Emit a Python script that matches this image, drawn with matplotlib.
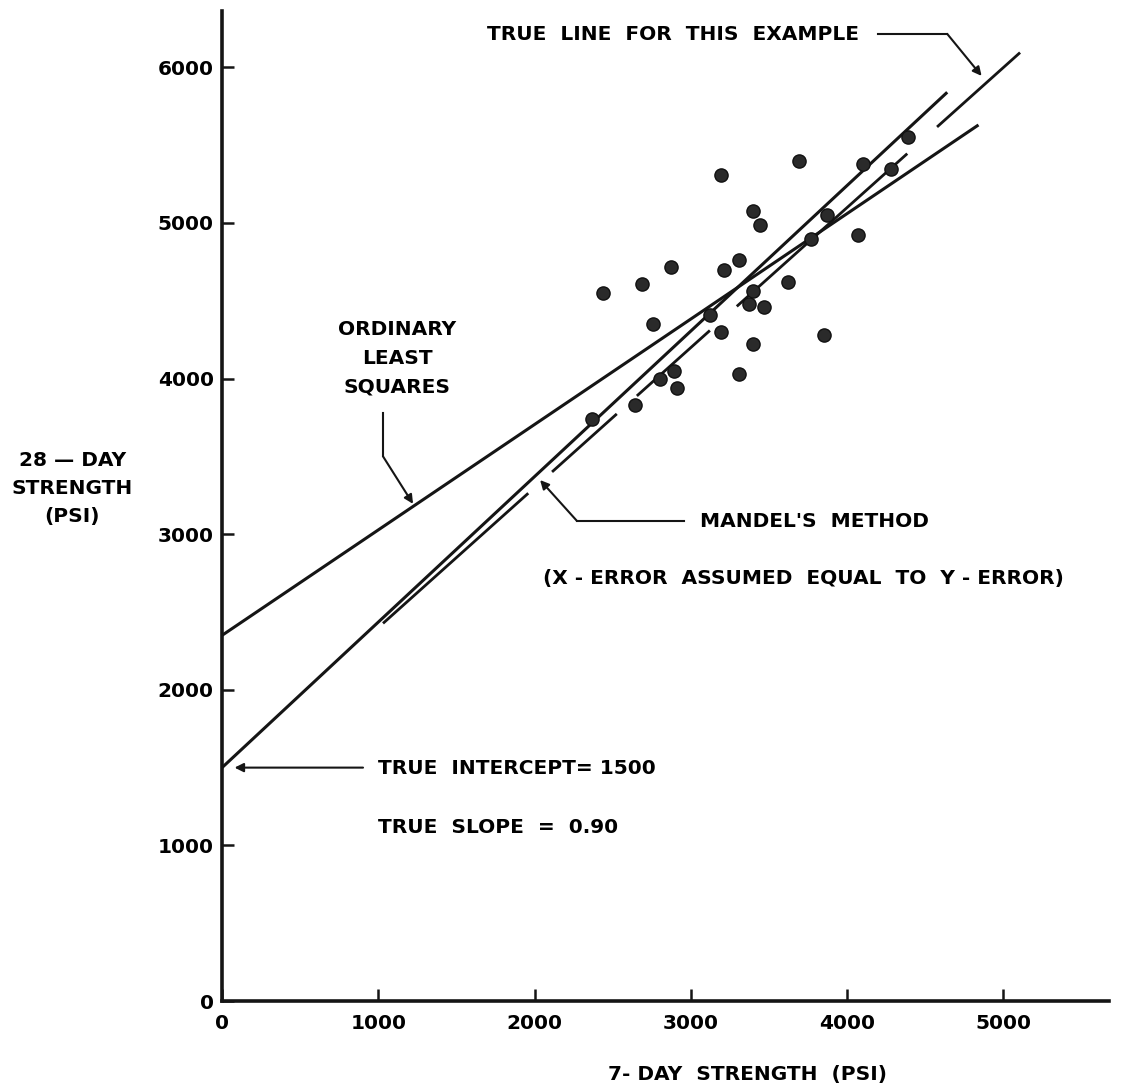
import numpy as np
import matplotlib.pyplot as plt

plt.rcParams['font.family'] = ['DejaVu Sans']
plt.rcParams['font.weight'] = 'bold'
plt.rcParams['axes.labelweight'] = 'bold'
plt.rcParams['font.size'] = 14.5

# 7-day and 28-day strengths of the test cylinders (psi)
x7 = [4390, 3690, 4100, 3190, 4280, 3400, 3440, 3870, 4070, 3770,
      2870, 3310, 3210, 2690, 2440, 3620, 3400, 3370, 3470, 3120,
      2760, 3190, 3850, 3400, 3310, 2890, 2800, 2910, 2640, 2370]
y28 = [5550, 5400, 5380, 5310, 5350, 5080, 4990, 5050, 4920, 4900,
       4720, 4760, 4700, 4610, 4550, 4620, 4560, 4480, 4460, 4410,
       4350, 4300, 4280, 4220, 4030, 4050, 4000, 3940, 3830, 3740]

# fitted lines, end points as drawn
ols_x = [0, 4840]
ols_y = [2350, 5630]
mandel_x = [0, 4640]
mandel_y = [1500, 5840]
true_x = [1030, 5106]
true_y = [2427, 6095]

xticks = [0, 1000, 2000, 3000, 4000, 5000]
yticks = [0, 1000, 2000, 3000, 4000, 5000, 6000]

fig = plt.figure(figsize=(11.22, 10.92), dpi=100)
ax = fig.add_axes([0.1979, 0.0833, 0.7905, 0.9066])

ink = '#151515'
ax.plot(ols_x, ols_y, color=ink, lw=2.2, solid_capstyle='butt')
ax.plot(mandel_x, mandel_y, color=ink, lw=2.2, solid_capstyle='butt')
ax.plot(true_x, true_y, color=ink, lw=2.0,
        dashes=(70.2, 11.5, 31.3, 9.7, 35.3, 13, 82.4, 14.4, 40.3, 18))
ax.plot(x7, y28, 'o', color='#2a2a2a', markeredgecolor='#111111',
        markersize=9.5, mew=1)

ax.set_xlim(0, 5675)
ax.set_ylim(0, 6362)
ax.set_xticks(xticks)
ax.set_yticks(yticks)
ax.spines['top'].set_visible(False)
ax.spines['right'].set_visible(False)
for s in ['left', 'bottom']:
    ax.spines[s].set_linewidth(2.6)
    ax.spines[s].set_color(ink)
ax.tick_params(axis='both', direction='in', width=1.8, color=ink)
ax.tick_params(axis='x', length=9, pad=9)
ax.tick_params(axis='y', length=8.5, pad=6)

ax.set_xlabel('7- DAY  STRENGTH  (PSI)')
ax.xaxis.set_label_coords(0.593, -0.065)
ax.set_ylabel('28 — DAY\nSTRENGTH\n(PSI)', rotation=0, ha='center',
              va='center', linespacing=1.6)
ax.yaxis.set_label_coords(-0.169, 0.518)

arrow = dict(arrowstyle='-|>', color=ink, lw=1.5, mutation_scale=13,
             shrinkA=0, shrinkB=0)

# true line label
ax.text(4075, 6208, 'TRUE  LINE  FOR  THIS  EXAMPLE', ha='right', va='center')
ax.plot([4200, 4640], [6215, 6215], color=ink, lw=1.5)
ax.annotate('', xy=(4860, 5945), xytext=(4640, 6215), arrowprops=arrow)

# ordinary least squares label
ax.text(1120, 4132, 'ORDINARY\nLEAST\nSQUARES', ha='center', va='center',
        linespacing=1.65)
ax.plot([1030, 1030], [3780, 3500], color=ink, lw=1.5)
ax.annotate('', xy=(1222, 3195), xytext=(1030, 3500), arrowprops=arrow)

# Mandel's method label
ax.plot([2271, 2956], [3085, 3085], color=ink, lw=1.5)
ax.annotate('', xy=(2035, 3348), xytext=(2271, 3085), arrowprops=arrow)
ax.text(3058, 3080, "MANDEL'S  METHOD", ha='left', va='center')
ax.text(2054, 2718, '(X - ERROR  ASSUMED  EQUAL  TO  Y - ERROR)',
        ha='left', va='center')

# true intercept / slope
ax.annotate('', xy=(80, 1500), xytext=(902, 1500), arrowprops=arrow)
ax.text(998, 1497, 'TRUE  INTERCEPT= 1500', ha='left', va='center')
ax.text(998, 1118, 'TRUE  SLOPE  =  0.90', ha='left', va='center')

fig.savefig('out.png', dpi=100)
